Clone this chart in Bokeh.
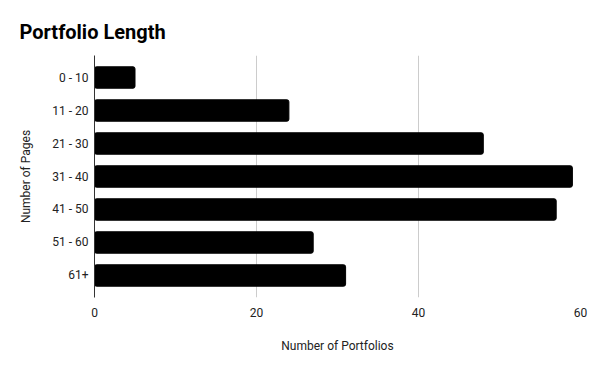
from bokeh.plotting import figure
from bokeh.models import FactorRange, Range1d, FixedTicker
from bokeh.embed import file_html
from bokeh.resources import INLINE

categories = ["0 - 10", "11 - 20", "21 - 30", "31 - 40", "41 - 50", "51 - 60", "61+"]
counts = [5, 24, 48, 59, 57, 27, 31]
x_ticks = [0, 20, 40, 60]

FONT = "Roboto"

y_range = FactorRange(factors=list(reversed(categories)), range_padding=0.167,
                      range_padding_units="absolute")
p = figure(width=600, height=371, y_range=y_range, x_range=Range1d(0, 60),
           output_backend="svg", toolbar_location=None,
           min_border_left=94, min_border_right=20, min_border_top=55,
           min_border_bottom=74)

p.hbar(y=categories, right=counts, left=0, height=0.65, color="#000000",
       border_radius=2)

p.title.text = "Portfolio Length"
p.title.text_font = FONT
p.title.text_font_size = "20px"
p.title.text_font_style = "bold"
p.title.text_color = "#000000"
p.title.align = "left"
p.title.offset = -75
p.title.standoff = 24

p.outline_line_color = None
p.ygrid.grid_line_color = None
p.xgrid.grid_line_color = "#cccccc"
p.xgrid.ticker = FixedTicker(ticks=[20, 40, 60])

p.xaxis.ticker = FixedTicker(ticks=x_ticks)
p.xaxis.axis_line_color = None
p.xaxis.major_tick_line_color = None
p.xaxis.minor_tick_line_color = None
p.xaxis.major_tick_out = 0
p.xaxis.minor_tick_out = 0
p.xaxis.major_label_standoff = 10
p.xaxis.axis_label = "Number of Portfolios"
p.xaxis.axis_label_standoff = 19

p.yaxis.axis_line_color = "#333333"
p.yaxis.major_tick_line_color = None
p.yaxis.minor_tick_line_color = None
p.yaxis.major_tick_out = 0
p.yaxis.minor_tick_out = 0
p.yaxis.major_label_standoff = 6
p.yaxis.axis_label = "Number of Pages"
p.yaxis.axis_label_standoff = 16

for ax in (p.xaxis[0], p.yaxis[0]):
    ax.major_label_text_font = FONT
    ax.major_label_text_font_size = "12px"
    ax.major_label_text_color = "#222222"
    ax.axis_label_text_font = FONT
    ax.axis_label_text_font_size = "12px"
    ax.axis_label_text_font_style = "normal"
    ax.axis_label_text_color = "#222222"

open("out.html", "w").write(file_html(p, INLINE))
